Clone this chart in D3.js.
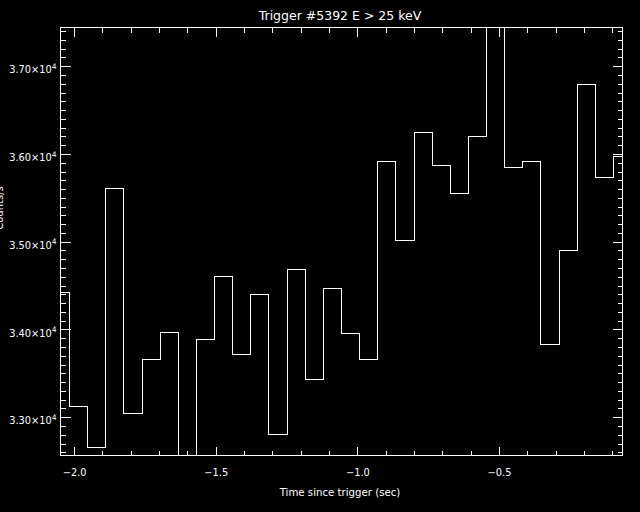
<!DOCTYPE html>
<html><head><meta charset="utf-8">
<script src="https://cdn.jsdelivr.net/npm/d3@7/dist/d3.min.js"></script>
<style>html,body{margin:0;background:#000;}svg{display:block;background:#000}</style>
</head><body>
<svg id="chart" width="640" height="512"></svg>
<script>
// ---- data ----
const times = [-2.048,-1.984,-1.920,-1.856,-1.792,-1.728,-1.664,-1.600,-1.536,-1.472,-1.408,-1.344,-1.280,-1.216,-1.152,-1.088,
               -1.024,-0.960,-0.896,-0.832,-0.768,-0.704,-0.640,-0.576,-0.512,-0.448,-0.384,-0.320,-0.256,-0.192,-0.128,-0.064];
const counts = [34419,33120,32656,35604,33040,33655,33963,32564,33883,34601,33712,34396,32801,34681,33427,34464,
                33952,33655,35912,35011,36242,35866,35547,36197,37441,35843,35912,33830,34897,36789,35729,35969];
const xMajorTicks = [-2.0,-1.5,-1.0,-0.5];
const xTickLabels = ["\u22122.0","\u22121.5","\u22121.0","\u22120.5"];
const xMinorTicks = [-2.0,-1.9,-1.8,-1.7,-1.6,-1.5,-1.4,-1.3,-1.2,-1.1,-1.0,-0.9,-0.8,-0.7,-0.6,-0.5,-0.4,-0.3,-0.2,-0.1];
const yMajorTicks = [33000,34000,35000,36000,37000];
const yTickMantissa = ["3.30","3.40","3.50","3.60","3.70"];
const yTickExponent = "4";
const yMinorStep = 100;
const titleText = "Trigger #5392 E > 25 keV";
const xTitleText = "Time since trigger (sec)";
const yTitleText = "Counts/s";

// ---- layout ----
const L = 60.5, R = 622.5, T = 27.5, B = 455.5;
const svg = d3.select("#chart");
const font = "DejaVu Sans";

const x = d3.scaleLinear().domain([times[0], times[times.length-1]]).range([L, R]);
const y = d3.scaleLinear().domain(d3.extent(counts)).range([B, T]);

const yMinorTicks = d3.range(32600, 37441, yMinorStep).filter(v => v >= y.domain()[0] && v <= y.domain()[1]);

function styleAxis(g){
  g.select(".domain").remove();
  g.selectAll(".tick line").attr("stroke","#fff").attr("stroke-width",1).attr("shape-rendering","crispEdges");
  g.selectAll("text").attr("fill","#fff").attr("font-family",font);
}

// bottom axis: major ticks with labels
svg.append("g").attr("transform",`translate(0,${B})`)
  .call(d3.axisBottom(x).tickValues(xMajorTicks).tickSize(-9).tickPadding(14)
        .tickFormat((d,i)=>xTickLabels[i]))
  .call(styleAxis)
  .call(g=>g.selectAll("text").attr("font-size","9.8px"));
svg.append("g").attr("transform",`translate(0,${B})`)
  .call(d3.axisBottom(x).tickValues(xMinorTicks.filter(v=>!xMajorTicks.some(m=>Math.abs(m-v)<1e-9))).tickSize(-5).tickFormat(""))
  .call(styleAxis);
// top axis
svg.append("g").attr("transform",`translate(0,${T})`)
  .call(d3.axisTop(x).tickValues(xMajorTicks).tickSize(-9).tickFormat(""))
  .call(styleAxis);
svg.append("g").attr("transform",`translate(0,${T})`)
  .call(d3.axisTop(x).tickValues(xMinorTicks.filter(v=>!xMajorTicks.some(m=>Math.abs(m-v)<1e-9))).tickSize(-5).tickFormat(""))
  .call(styleAxis);

// left axis
const yLeft = svg.append("g").attr("transform",`translate(${L},0)`)
  .call(d3.axisLeft(y).tickValues(yMajorTicks).tickSize(-10).tickPadding(4).tickFormat(""))
  .call(styleAxis);
yLeft.selectAll(".tick text").each(function(d,i){
  const t = d3.select(this).attr("font-size","9.8px").attr("dy","6.6px").attr("x",-4);
  t.append("tspan").text(yTickMantissa[i] + "\u00d710");
  t.append("tspan").attr("dy","-4.5px").attr("font-size","7.5px").text(yTickExponent);
});
svg.append("g").attr("transform",`translate(${L},0)`)
  .call(d3.axisLeft(y).tickValues(yMinorTicks.filter(v=>v%1000!==0)).tickSize(-5).tickFormat(""))
  .call(styleAxis);
// right axis
svg.append("g").attr("transform",`translate(${R},0)`)
  .call(d3.axisRight(y).tickValues(yMajorTicks).tickSize(-10).tickFormat(""))
  .call(styleAxis);
svg.append("g").attr("transform",`translate(${R},0)`)
  .call(d3.axisRight(y).tickValues(yMinorTicks.filter(v=>v%1000!==0)).tickSize(-5).tickFormat(""))
  .call(styleAxis);

// frame
svg.append("rect").attr("x",L).attr("y",T).attr("width",R-L).attr("height",B-T)
  .attr("fill","none").attr("stroke","#fff").attr("stroke-width",1).attr("shape-rendering","crispEdges");

// histogram step line
svg.append("clipPath").attr("id","clip").append("rect")
  .attr("x",L).attr("y",T).attr("width",R-L).attr("height",B-T);
const line = d3.line().x((d,i)=>x(times[i])).y(d=>y(d)).curve(d3.curveStep);
svg.append("path").datum(counts).attr("d",line).attr("clip-path","url(#clip)")
  .attr("fill","none").attr("stroke","#fff").attr("stroke-width",1).attr("shape-rendering","crispEdges");

// titles
svg.append("text").attr("x",340).attr("y",20).attr("text-anchor","middle")
  .attr("fill","#fff").attr("font-family",font).attr("font-size","12.5px").text(titleText);
svg.append("text").attr("x",340).attr("y",496).attr("text-anchor","middle")
  .attr("fill","#fff").attr("font-family",font).attr("font-size","10.2px").text(xTitleText);
svg.append("text").attr("transform","translate(3,208) rotate(-90)").attr("text-anchor","middle")
  .attr("fill","#fff").attr("font-family",font).attr("font-size","10px").text(yTitleText);
</script>
</body></html>
